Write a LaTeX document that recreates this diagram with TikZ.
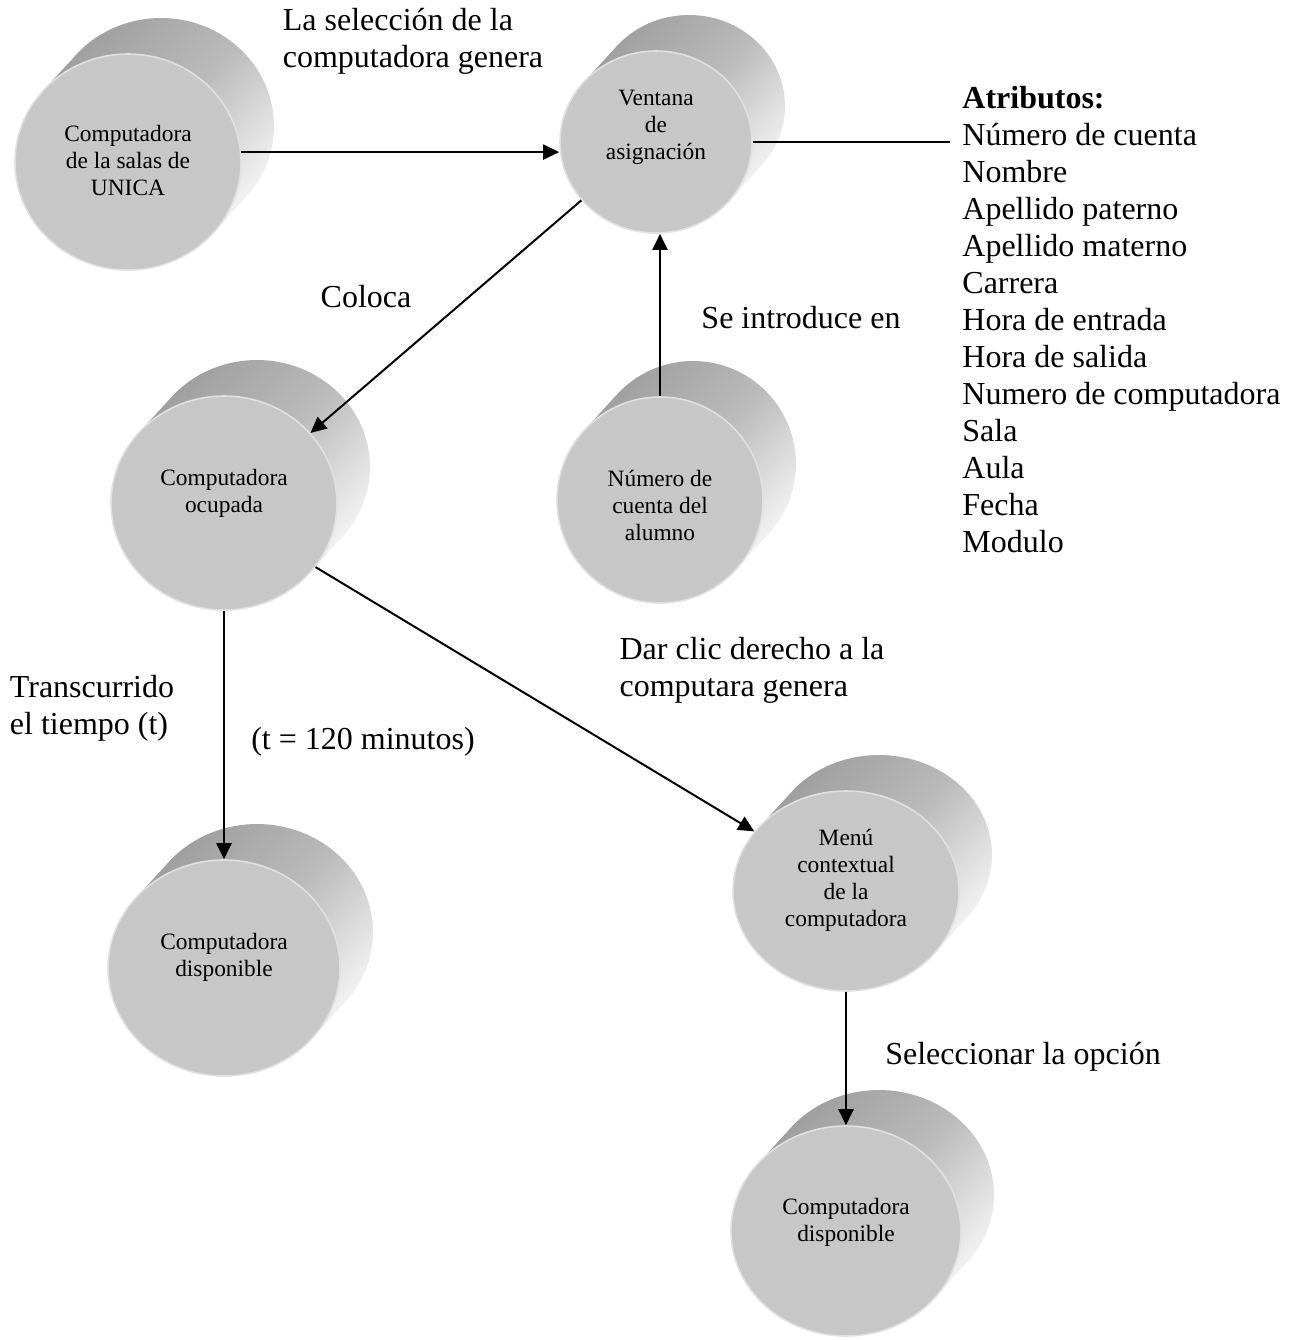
\documentclass[tikz,border=0pt]{standalone}
\usepackage{fontspec}
\setmainfont{Liberation Serif}
\usetikzlibrary{arrows.meta,shapes.geometric,backgrounds}

\begin{document}
\begin{tikzpicture}
[x=0.5pt, y=0.5pt, font=\fontsize{16}{18.5}\selectfont]
\tikzstyle{cilindro}=[ellipse, fill=black!22, draw=black!12, line width=0.8pt, inner sep=0pt]
\tikzstyle{cuerpo}=[top color=black!38, bottom color=black!4, middle color=black!27, shading angle=47.5]
\tikzstyle{flecha}=[line width=1pt, -{Triangle[length=8pt, width=7.5pt]}]
\tikzstyle{linea}=[line width=1pt]
\tikzstyle{texto}=[align=left, inner sep=0pt]
\tikzset{every label/.style={align=center, font=\fontsize{11.7}{13.5}\selectfont}}

\useasboundingbox (0,0) rectangle (1290,-1340);

\node[cilindro, minimum width=113pt, minimum height=108pt]	(U)	at (128,-162)	[label={[yshift=1pt]center:{Computadora\\de la salas de\\UNICA}}] {};
\node[cilindro, minimum width=96pt, minimum height=91pt]	(V)	at (656,-142)	[label={[yshift=7.5pt]center:{Ventana\\de\\asignación}}] {};
\node[cilindro, minimum width=113pt, minimum height=107pt]	(O)	at (224,-503)	[label={[yshift=5pt]center:{Computadora\\ocupada}}] {};
\node[cilindro, minimum width=103pt, minimum height=103pt]	(N)	at (660,-500)	[label={[yshift=-2.5pt]center:{Número de\\cuenta del\\alumno}}] {};
\node[cilindro, minimum width=116pt, minimum height=108pt]	(D1)	at (224,-968)	[label={[yshift=5.5pt]center:{Computadora\\disponible}}] {};
\node[cilindro, minimum width=113pt, minimum height=100pt]	(M)	at (846,-891)	[label={[yshift=5.5pt]center:{Menú\\contextual\\de la\\computadora}}] {};
\node[cilindro, minimum width=115pt, minimum height=105pt]	(D2)	at (846,-1231)	[label={[yshift=4.5pt]center:{Computadora\\disponible}}] {};

\begin{pgfonlayer}{background}
\shade[cuerpo] ([shift={(137.5:113 and 108)}]U.center) -- ++(33,36) arc[start angle=137.5, end angle=-42.5, x radius=113, y radius=108] -- ([shift={(-42.5:113 and 108)}]U.center) -- cycle;
\shade[cuerpo] ([shift={(137.5:96 and 91)}]V.center) -- ++(33,36) arc[start angle=137.5, end angle=-42.5, x radius=96, y radius=91] -- ([shift={(-42.5:96 and 91)}]V.center) -- cycle;
\shade[cuerpo] ([shift={(137.5:113 and 107)}]O.center) -- ++(33,36) arc[start angle=137.5, end angle=-42.5, x radius=113, y radius=107] -- ([shift={(-42.5:113 and 107)}]O.center) -- cycle;
\shade[cuerpo] ([shift={(137.5:103 and 103)}]N.center) -- ++(33,36) arc[start angle=137.5, end angle=-42.5, x radius=103, y radius=103] -- ([shift={(-42.5:103 and 103)}]N.center) -- cycle;
\shade[cuerpo] ([shift={(137.5:116 and 108)}]D1.center) -- ++(33,36) arc[start angle=137.5, end angle=-42.5, x radius=116, y radius=108] -- ([shift={(-42.5:116 and 108)}]D1.center) -- cycle;
\shade[cuerpo] ([shift={(137.5:113 and 100)}]M.center) -- ++(33,36) arc[start angle=137.5, end angle=-42.5, x radius=113, y radius=100] -- ([shift={(-42.5:113 and 100)}]M.center) -- cycle;
\shade[cuerpo] ([shift={(137.5:115 and 105)}]D2.center) -- ++(33,36) arc[start angle=137.5, end angle=-42.5, x radius=115, y radius=105] -- ([shift={(-42.5:115 and 105)}]D2.center) -- cycle;
\end{pgfonlayer}

\node[texto]	(sel)	at (413,-41)	{La selección de la\\computadora genera};
\node[texto]	(coloca)	at (366,-297)	{Coloca};
\node[texto]	(intro)	at (801,-318)	{Se introduce en};
\node[texto]	(trans)	at (92,-708)	{Transcurrido\\el tiempo (t)};
\node[texto]	(tmin)	at (363,-742)	{(t = 120 minutos)};
\node[texto]	(clic)	at (752,-670)	{Dar clic derecho a la\\computara genera};
\node[texto]	(opcion)	at (1023,-1057)	{Seleccionar la opción};
\node[texto, anchor=west, inner xsep=6pt]	(attr)	at (950,-319.5)	{\textbf{Atributos:}\\Número de cuenta\\Nombre\\Apellido paterno\\Apellido materno\\Carrera\\Hora de entrada\\Hora de salida\\Numero de computadora\\Sala\\Aula\\Fecha\\Modulo};

\draw[flecha]	(U.5) -- (U.5 -| V.west);
\draw[flecha]	(V.218) -- (O.39);
\draw[flecha]	(N.north) -- (N.north |- V.south);
\draw[flecha]	(O.south) -- (D1.north);
\draw[flecha]	(O.-35) -- (M.147);
\draw[flecha]	(M.south) -- (D2.north);
\draw[linea]	(V.east) -- (V.east -| attr.west);

\end{tikzpicture}
\end{document}
